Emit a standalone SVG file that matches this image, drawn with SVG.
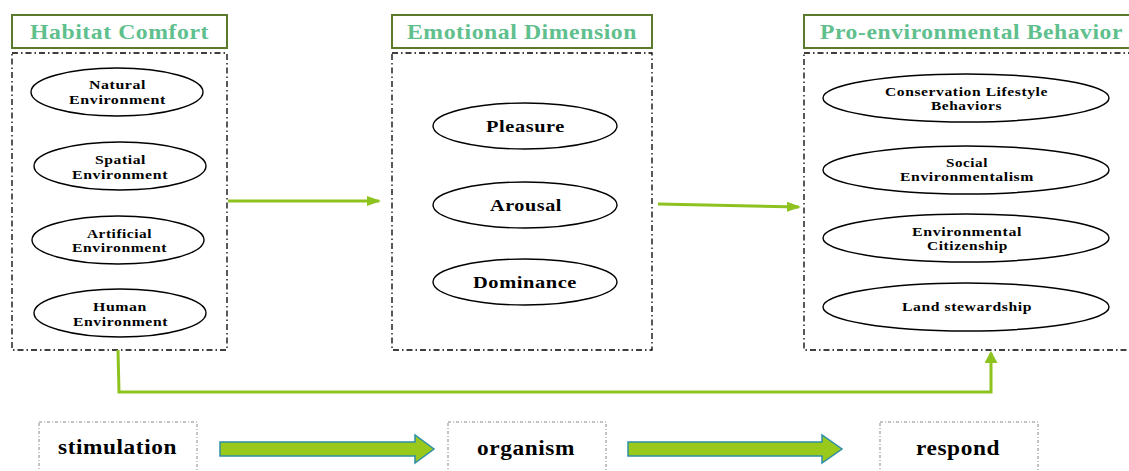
<svg xmlns="http://www.w3.org/2000/svg" width="1129" height="471" viewBox="0 0 1129 471">
<style>
.title{fill:#fff;stroke:#5b7a2b;stroke-width:2}
.tt{font-family:"Liberation Serif",serif;font-weight:bold;font-size:21px;fill:#5fbf8d;letter-spacing:0.5px}
.dash{fill:none;stroke:#000;stroke-width:1.3;stroke-dasharray:6,3,1.5,3}
.ell{fill:#fff;stroke:#000;stroke-width:1.4}
.et{font-family:"Liberation Serif",serif;font-weight:bold;font-size:13.5px;fill:#000;letter-spacing:0.5px}
.et2{font-family:"Liberation Serif",serif;font-weight:bold;font-size:17px;fill:#000;letter-spacing:0.5px}
.bt{font-family:"Liberation Serif",serif;font-weight:bold;font-size:20px;fill:#000;letter-spacing:0.5px}
.sbox{fill:none;stroke:#888;stroke-width:1;stroke-dasharray:3,2,1,2}
.conn{fill:none;stroke:#8dc21f;stroke-width:3}
.block{fill:#99c91b;stroke:#2e8fa8;stroke-width:1.5}
</style>
<defs>
<marker id="ah" markerWidth="14" markerHeight="10" refX="12" refY="5" orient="auto" markerUnits="userSpaceOnUse" viewBox="0 0 14 10">
<path d="M0,0 L14,5 L0,10 Z" fill="#8dc21f"/>
</marker>
<marker id="ah2" markerWidth="13" markerHeight="13" refX="10" refY="6.5" orient="auto" markerUnits="userSpaceOnUse" viewBox="0 0 13 13">
<path d="M0,0 L12,6.5 L0,13 Z" fill="#8dc21f"/>
</marker>
</defs>

<g id="habitat-comfort">
<rect class="title" x="12" y="15" width="215" height="33"/>
<text class="tt" x="30" y="39" textLength="179" lengthAdjust="spacingAndGlyphs">Habitat Comfort</text>
<rect class="dash" x="12" y="53" width="215" height="297"/>
</g>
<g id="natural-environment">
<ellipse class="ell" cx="117" cy="92" rx="86" ry="24"/>
<text class="et" x="89" y="89" textLength="57" lengthAdjust="spacingAndGlyphs">Natural</text>
<text class="et" x="69" y="104" textLength="97" lengthAdjust="spacingAndGlyphs">Environment</text>
</g>
<g id="spatial-environment">
<ellipse class="ell" cx="120" cy="166" rx="86" ry="24"/>
<text class="et" x="95" y="164" textLength="51" lengthAdjust="spacingAndGlyphs">Spatial</text>
<text class="et" x="72" y="179" textLength="96" lengthAdjust="spacingAndGlyphs">Environment</text>
</g>
<g id="artificial-environment">
<ellipse class="ell" cx="118" cy="240" rx="86" ry="24"/>
<text class="et" x="87" y="238" textLength="65" lengthAdjust="spacingAndGlyphs">Artificial</text>
<text class="et" x="72" y="252" textLength="95" lengthAdjust="spacingAndGlyphs">Environment</text>
</g>
<g id="human-environment">
<ellipse class="ell" cx="120" cy="313" rx="86" ry="24"/>
<text class="et" x="93" y="311" textLength="54" lengthAdjust="spacingAndGlyphs">Human</text>
<text class="et" x="73" y="326" textLength="95" lengthAdjust="spacingAndGlyphs">Environment</text>
</g>

<g id="emotional-dimension">
<rect class="title" x="392" y="15" width="260" height="33"/>
<text class="tt" x="407" y="39" textLength="230" lengthAdjust="spacingAndGlyphs">Emotional Dimension</text>
<rect class="dash" x="392" y="53" width="260" height="297"/>
</g>
<g id="pleasure">
<ellipse class="ell" cx="525" cy="126" rx="92" ry="23"/>
<text class="et2" x="486" y="132" textLength="79" lengthAdjust="spacingAndGlyphs">Pleasure</text>
</g>
<g id="arousal">
<ellipse class="ell" cx="525" cy="205" rx="92" ry="23"/>
<text class="et2" x="490" y="211" textLength="72" lengthAdjust="spacingAndGlyphs">Arousal</text>
</g>
<g id="dominance">
<ellipse class="ell" cx="525" cy="282" rx="92" ry="23"/>
<text class="et2" x="473" y="288" textLength="104" lengthAdjust="spacingAndGlyphs">Dominance</text>
</g>

<g id="pro-environmental-behavior">
<rect class="title" x="804" y="15" width="330" height="33"/>
<text class="tt" x="820" y="39" textLength="303" lengthAdjust="spacingAndGlyphs">Pro-environmental Behavior</text>
<rect class="dash" x="804" y="53" width="330" height="297"/>
</g>
<g id="conservation-lifestyle-behaviors">
<ellipse class="ell" cx="966" cy="98" rx="143" ry="24"/>
<text class="et" x="885" y="96" textLength="163" lengthAdjust="spacingAndGlyphs">Conservation Lifestyle</text>
<text class="et" x="931" y="110" textLength="71" lengthAdjust="spacingAndGlyphs">Behaviors</text>
</g>
<g id="social-environmentalism">
<ellipse class="ell" cx="966" cy="170" rx="143" ry="24"/>
<text class="et" x="946" y="167" textLength="42" lengthAdjust="spacingAndGlyphs">Social</text>
<text class="et" x="900" y="181" textLength="134" lengthAdjust="spacingAndGlyphs">Environmentalism</text>
</g>
<g id="environmental-citizenship">
<ellipse class="ell" cx="966" cy="238" rx="143" ry="24"/>
<text class="et" x="912" y="236" textLength="110" lengthAdjust="spacingAndGlyphs">Environmental</text>
<text class="et" x="927" y="250" textLength="81" lengthAdjust="spacingAndGlyphs">Citizenship</text>
</g>
<g id="land-stewardship">
<ellipse class="ell" cx="966" cy="307" rx="143" ry="24"/>
<text class="et" x="902" y="311" textLength="130" lengthAdjust="spacingAndGlyphs">Land stewardship</text>
</g>

<g id="connectors">
<line class="conn" x1="228" y1="201" x2="379" y2="201" marker-end="url(#ah)"/>
<line class="conn" x1="658" y1="204" x2="799" y2="207" marker-end="url(#ah)"/>
<path class="conn" d="M118,350 L119,392 L991,392 L991,353" stroke-width="4" marker-end="url(#ah2)"/>
<path class="block" d="M220,442 L415,442 L415,435 L434,449 L415,463 L415,456 L220,456 Z"/>
<path class="block" d="M628,442 L822,442 L822,435 L842,449 L822,463 L822,456 L628,456 Z"/>
</g>

<g id="stimulation">
<rect class="sbox" x="39" y="422" width="158" height="60"/>
<text class="bt" x="58" y="454" textLength="119" lengthAdjust="spacingAndGlyphs">stimulation</text>
</g>
<g id="organism">
<rect class="sbox" x="448" y="422" width="158" height="60"/>
<text class="bt" x="477" y="455" textLength="98" lengthAdjust="spacingAndGlyphs">organism</text>
</g>
<g id="respond">
<rect class="sbox" x="880" y="422" width="158" height="60"/>
<text class="bt" x="916" y="455" textLength="84" lengthAdjust="spacingAndGlyphs">respond</text>
</g>
</svg>
